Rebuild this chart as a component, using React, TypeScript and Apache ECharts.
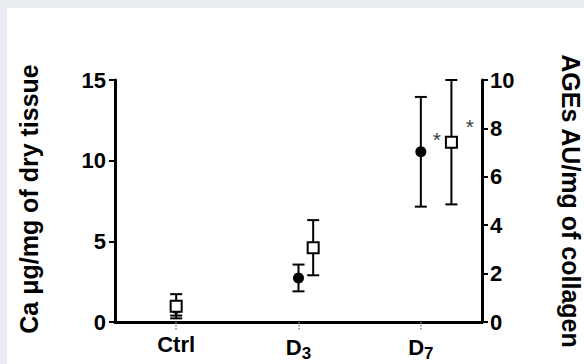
import React, { useEffect, useRef } from "react";
import * as echarts from "echarts";

// ---- data ----
const categoryLabels = ["Ctrl", "D{sub|3}", "D{sub|7}"];
const categoryPos = [0.5, 1.5, 2.5];

const caX = [0.5, 1.5, 2.5];
const caMean = [0.85, 2.73, 10.55];
const caErr = [0.45, 0.83, 3.4];

const agesX = [0.5, 1.62, 2.75];
const agesMean = [0.65, 3.07, 7.43];
const agesErr = [0.5, 1.14, 2.57];

const starX = [2.63, 2.9];
const starY = [11.3, 12.1];

const leftTicks = [0, 5, 10, 15];
const rightTicks = [0, 2, 4, 6, 8, 10];

const FONT = "Liberation Sans, Arial, sans-serif";

function errorSeries(xs: number[], means: number[], errs: number[], yAxisIndex: number) {
  return {
    type: "custom",
    yAxisIndex,
    z: 3,
    data: xs.map((x, i) => [x, means[i] - errs[i], means[i] + errs[i]]),
    encode: { x: 0, y: [1, 2] },
    renderItem: (_p: any, api: any) => {
      const x = api.value(0);
      const top = api.coord([x, api.value(2)]);
      const bot = api.coord([x, api.value(1)]);
      const hw = 6;
      const st = { stroke: "#000", lineWidth: 2 };
      return {
        type: "group",
        children: [
          { type: "line", shape: { x1: top[0], y1: top[1], x2: bot[0], y2: bot[1] }, style: st },
          { type: "line", shape: { x1: top[0] - hw, y1: top[1], x2: top[0] + hw, y2: top[1] }, style: st },
          { type: "line", shape: { x1: bot[0] - hw, y1: bot[1], x2: bot[0] + hw, y2: bot[1] }, style: st },
        ],
      };
    },
  };
}

export default function App() {
  const ref = useRef<HTMLDivElement>(null);
  useEffect(() => {
    document.body.style.margin = "0";
    const chart = echarts.init(ref.current!, undefined, { renderer: "svg" });
    const tickLabel = {
      color: "#000",
      fontFamily: FONT,
      fontWeight: "bold",
      fontSize: 22,
    };
    chart.setOption({
      animation: false,
      backgroundColor: "#e8ebef",
      graphic: [
        { type: "rect", z: -10, silent: true, shape: { x: 7, y: 8, width: 600, height: 400 }, style: { fill: "#fff" } },
        {
          type: "text",
          x: 29,
          y: 199,
          rotation: Math.PI / 2,
          style: {
            text: "Ca μg/mg of dry tissue",
            font: `bold 25px ${FONT}`,
            fill: "#000",
            textAlign: "center",
            textVerticalAlign: "middle",
          },
        },
        {
          type: "text",
          x: 571,
          y: 201,
          rotation: -Math.PI / 2,
          style: {
            text: "AGEs AU/mg of collagen",
            font: `bold 25px ${FONT}`,
            fill: "#000",
            textAlign: "center",
            textVerticalAlign: "middle",
          },
        },
      ],
      grid: { left: 115, right: 102, top: 80, bottom: 42, containLabel: false },
      xAxis: {
        type: "value",
        min: 0,
        max: 3,
        splitLine: { show: false },
        axisLine: { show: true, onZero: false, lineStyle: { color: "#000", width: 3 } },
        axisTick: {
          show: true,
          customValues: categoryPos,
          length: 8,
          lineStyle: { color: "#888", width: 1.5, type: "dotted" },
        },
        axisLabel: {
          ...tickLabel,
          customValues: categoryPos,
          margin: 11,
          formatter: (v: number) => categoryLabels[categoryPos.indexOf(v)] ?? "",
          rich: {
            sub: { fontSize: 17, fontWeight: "bold", fontFamily: FONT, color: "#000", verticalAlign: "bottom", padding: [12, 0, 0, 0] },
          },
        },
      },
      yAxis: [
        {
          type: "value",
          min: 0,
          max: 15,
          interval: 5,
          position: "left",
          splitLine: { show: false },
          axisLine: { show: true, lineStyle: { color: "#000", width: 3 } },
          axisTick: { show: true, length: 6, lineStyle: { color: "#000", width: 2 } },
          axisLabel: { ...tickLabel, customValues: leftTicks, margin: 9 },
        },
        {
          type: "value",
          min: 0,
          max: 10,
          interval: 2,
          position: "right",
          splitLine: { show: false },
          axisLine: { show: true, lineStyle: { color: "#000", width: 3 } },
          axisTick: { show: true, length: 6, lineStyle: { color: "#000", width: 2 } },
          axisLabel: { ...tickLabel, customValues: rightTicks, margin: 8 },
        },
      ],
      series: [
        errorSeries(caX, caMean, caErr, 0),
        errorSeries(agesX, agesMean, agesErr, 1),
        {
          type: "scatter",
          yAxisIndex: 0,
          z: 4,
          symbol: "circle",
          symbolSize: 11,
          itemStyle: { color: "#000", opacity: 1 },
          data: caX.map((x, i) => [x, caMean[i]]),
        },
        {
          type: "scatter",
          yAxisIndex: 1,
          z: 5,
          symbol: "rect",
          symbolSize: 11,
          itemStyle: { color: "#fff", borderColor: "#000", borderWidth: 2, opacity: 1 },
          data: agesX.map((x, i) => [x, agesMean[i]]),
        },
        {
          type: "scatter",
          yAxisIndex: 0,
          z: 6,
          symbolSize: 0,
          silent: true,
          label: {
            show: true,
            position: "inside",
            formatter: "*",
            color: "#000",
            fontFamily: FONT,
            fontSize: 21,
          },
          data: starX.map((x, i) => [x, starY[i]]),
        },
      ],
    });
    return () => chart.dispose();
  }, []);
  return <div ref={ref} style={{ width: 584, height: 364 }} />;
}
